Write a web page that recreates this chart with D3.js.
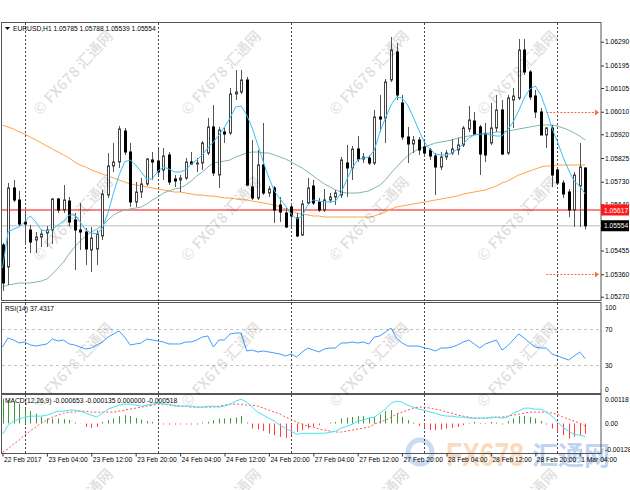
<!DOCTYPE html>
<html>
<head>
<meta charset="utf-8">
<script src="https://cdn.jsdelivr.net/npm/d3@7"></script>
<style>
body { margin: 0; background: #fff; }
svg { display: block; font-family: "Liberation Sans", Arial, sans-serif; }
</style>
</head>
<body>
<script>
// EURUSD H1, one bar per hour from 22 Feb 2017 20:00 to 1 Mar 2017 05:00
var barOpen = [1.05477,1.05389,1.05705,1.05657,1.05569,1.05537,1.05497,1.05509,1.05525,1.05537,
  1.05661,1.05617,1.05653,1.05577,1.05537,1.05529,1.05457,1.05461,1.05513,1.05677,
  1.05793,1.05809,1.05933,1.05849,1.05649,1.05689,1.05721,1.05817,1.05813,1.05777,
  1.05837,1.05741,1.05737,1.05745,1.05809,1.05801,1.05805,1.05845,1.05949,1.05757,
  1.05929,1.05925,1.06081,1.06089,1.06137,1.05709,1.05665,1.05797,1.05685,1.05705,
  1.05637,1.05605,1.05629,1.05585,1.05517,1.05645,1.05713,1.05649,1.05617,1.05657,
  1.05669,1.05677,1.05805,1.05785,1.05861,1.05821,1.05825,1.05805,1.05989,1.05985,
  1.06137,1.06249,1.06045,1.05909,1.05881,1.05897,1.05869,1.05857,1.05833,1.05789,
  1.05829,1.05845,1.05857,1.05877,1.05941,1.05973,1.05949,1.05921,1.05885,1.05945,
  1.06017,1.05845,1.06057,1.06065,1.06257,1.06169,1.06073,1.06009,1.05917,1.05945,
  1.05777,1.05725,1.05689,1.05617,1.05713,1.05785];
var barHigh = [1.05485,1.05725,1.05737,1.05693,1.05617,1.05557,1.05529,1.05537,1.05553,1.05665,
  1.05665,1.05717,1.05669,1.05605,1.05645,1.05545,1.05549,1.05537,1.05697,1.05845,
  1.05885,1.05953,1.05945,1.05885,1.05729,1.05745,1.05825,1.05849,1.05861,1.05865,
  1.05849,1.05757,1.05757,1.05825,1.05849,1.05825,1.05893,1.05985,1.06037,1.05949,
  1.05945,1.06105,1.06177,1.06177,1.06149,1.05897,1.05857,1.05965,1.05713,1.05713,
  1.05669,1.05625,1.05645,1.05605,1.05657,1.05745,1.05737,1.05665,1.05701,1.05685,
  1.05697,1.05829,1.05877,1.05873,1.05913,1.05845,1.05837,1.06017,1.06077,1.06141,
  1.06309,1.06285,1.06077,1.05949,1.05913,1.05909,1.05897,1.05865,1.05845,1.05849,
  1.05857,1.05901,1.05905,1.05953,1.06033,1.06009,1.05957,1.05965,1.06045,1.06077,
  1.06057,1.06077,1.06105,1.06301,1.06301,1.06177,1.06097,1.06025,1.05949,1.05957,
  1.05789,1.05737,1.05701,1.05769,1.05885,1.05788];
var barLow = [1.05293,1.05317,1.05649,1.05553,1.05477,1.05445,1.05445,1.05469,1.05469,1.05481,
  1.05605,1.05605,1.05553,1.05377,1.05457,1.05397,1.05369,1.05397,1.05497,1.05665,
  1.05769,1.05785,1.05837,1.05629,1.05629,1.05665,1.05713,1.05737,1.05757,1.05737,
  1.05717,1.05709,1.05689,1.05737,1.05797,1.05769,1.05777,1.05837,1.05753,1.05705,
  1.05885,1.05917,1.06057,1.06081,1.05713,1.05657,1.05657,1.05677,1.05669,1.05565,
  1.05569,1.05545,1.05549,1.05509,1.05513,1.05637,1.05637,1.05609,1.05609,1.05645,
  1.05637,1.05665,1.05669,1.05737,1.05809,1.05805,1.05797,1.05797,1.05929,1.05885,
  1.06129,1.06057,1.05897,1.05805,1.05845,1.05837,1.05829,1.05817,1.05677,1.05777,
  1.05817,1.05837,1.05837,1.05869,1.05929,1.05917,1.05757,1.05809,1.05877,1.05929,
  1.05837,1.05837,1.05945,1.06057,1.06157,1.06057,1.05985,1.05917,1.05865,1.05709,
  1.05721,1.05665,1.05589,1.05549,1.05549,1.05539];
var barClose = [1.05325,1.05705,1.05657,1.05561,1.05561,1.05489,1.05509,1.05521,1.05537,1.05661,
  1.05617,1.05657,1.05569,1.05537,1.05529,1.05461,1.05505,1.05521,1.05681,1.05793,
  1.05809,1.05941,1.05849,1.05649,1.05689,1.05721,1.05821,1.05809,1.05769,1.05833,
  1.05729,1.05733,1.05745,1.05809,1.05801,1.05805,1.05885,1.05949,1.05765,1.05937,
  1.05921,1.06081,1.06089,1.06137,1.05717,1.05665,1.05797,1.05685,1.05701,1.05617,
  1.05609,1.05549,1.05593,1.05513,1.05641,1.05705,1.05645,1.05617,1.05657,1.05669,
  1.05685,1.05817,1.05785,1.05861,1.05821,1.05829,1.05805,1.05989,1.05981,1.06129,
  1.06257,1.06077,1.05909,1.05881,1.05897,1.05857,1.05845,1.05833,1.05789,1.05829,
  1.05845,1.05861,1.05877,1.05945,1.05977,1.05921,1.05841,1.05837,1.05945,1.06017,
  1.05841,1.06065,1.06073,1.06257,1.06169,1.06069,1.06009,1.05917,1.05945,1.05757,
  1.05725,1.05681,1.05617,1.05757,1.05789,1.05554];

// moving averages as drawn on the chart
var maFast = [1.05385,1.05529,1.05541,1.05549,1.05569,1.05593,1.05569,1.05537,1.05533,1.05541,
  1.05557,1.05573,1.05597,1.05597,1.05569,1.05537,1.05525,1.05521,1.05545,1.05605,
  1.05685,1.05757,1.05809,1.05817,1.05797,1.05769,1.05741,1.05741,1.05773,1.05789,
  1.05781,1.05769,1.05769,1.05777,1.05801,1.05817,1.05837,1.05865,1.05889,1.05917,
  1.05949,1.05985,1.06029,1.06033,1.05997,1.05945,1.05877,1.05809,1.05745,1.05693,
  1.05661,1.05633,1.05601,1.05581,1.05593,1.05637,1.05657,1.05653,1.05649,1.05649,
  1.05653,1.05685,1.05737,1.05785,1.05817,1.05825,1.05829,1.05857,1.05929,1.05985,
  1.06037,1.06069,1.06065,1.06037,1.05989,1.05937,1.05889,1.05861,1.05841,1.05837,
  1.05837,1.05845,1.05861,1.05881,1.05905,1.05917,1.05921,1.05921,1.05917,1.05913,
  1.05913,1.05937,1.05969,1.06013,1.06065,1.06101,1.06113,1.06077,1.06017,1.05945,
  1.05889,1.05829,1.05777,1.05733,1.05713,1.05681];
var maMid = [1.05309,1.05317,1.05321,1.05325,1.05325,1.05325,1.05329,1.05333,1.05341,1.05361,
  1.05385,1.05409,1.05441,1.05469,1.05493,1.05513,1.05529,1.05541,1.05553,1.05577,
  1.05597,1.05609,1.05617,1.05621,1.05625,1.05629,1.05641,1.05657,1.05669,1.05685,
  1.05693,1.05701,1.05705,1.05717,1.05733,1.05753,1.05769,1.05789,1.05805,1.05809,
  1.05813,1.05817,1.05829,1.05837,1.05845,1.05849,1.05849,1.05845,1.05845,1.05837,
  1.05829,1.05821,1.05809,1.05797,1.05785,1.05769,1.05753,1.05737,1.05721,1.05709,
  1.05697,1.05689,1.05685,1.05685,1.05685,1.05689,1.05693,1.05705,1.05717,1.05737,
  1.05765,1.05789,1.05813,1.05833,1.05849,1.05861,1.05869,1.05877,1.05885,1.05889,
  1.05893,1.05897,1.05905,1.05909,1.05913,1.05917,1.05921,1.05925,1.05925,1.05929,
  1.05929,1.05933,1.05937,1.05941,1.05945,1.05949,1.05953,1.05957,1.05957,1.05957,
  1.05953,1.05945,1.05937,1.05925,1.05913,1.05897];
var maSlow = [1.05957,1.05949,1.05941,1.05929,1.05921,1.05909,1.05897,1.05885,1.05873,1.05861,
  1.05849,1.05837,1.05825,1.05809,1.05797,1.05789,1.05777,1.05769,1.05761,1.05753,
  1.05745,1.05737,1.05729,1.05721,1.05717,1.05713,1.05709,1.05705,1.05701,1.05697,
  1.05693,1.05689,1.05689,1.05685,1.05681,1.05677,1.05677,1.05673,1.05673,1.05669,
  1.05665,1.05665,1.05661,1.05661,1.05657,1.05653,1.05649,1.05645,1.05641,1.05637,
  1.05629,1.05621,1.05613,1.05605,1.05601,1.05597,1.05593,1.05593,1.05589,1.05589,
  1.05589,1.05589,1.05589,1.05589,1.05589,1.05589,1.05589,1.05593,1.05601,1.05609,
  1.05621,1.05629,1.05633,1.05637,1.05641,1.05645,1.05649,1.05653,1.05657,1.05661,
  1.05665,1.05669,1.05673,1.05681,1.05685,1.05689,1.05693,1.05697,1.05705,1.05713,
  1.05725,1.05733,1.05745,1.05757,1.05765,1.05773,1.05781,1.05789,1.05793,1.05793,
  1.05797,1.05797,1.05797,1.05797,1.05797,1.05797];

// RSI(14)
var rsiValues = [50.3,60.3,58.1,54.8,55.9,52.6,51.4,52.6,53.7,59.2,
  57.0,58.1,53.7,52.6,50.3,48.1,49.2,52.6,55.9,61.4,
  64.8,68.1,61.4,52.6,53.7,54.8,59.2,58.1,57.0,55.9,
  53.7,53.7,53.7,55.9,55.9,58.1,61.4,62.6,50.3,58.1,
  58.1,64.8,65.9,65.9,45.9,47.0,44.8,45.9,44.8,43.7,
  42.6,40.3,42.6,39.2,44.8,49.2,47.0,44.8,48.1,49.2,
  49.2,54.8,54.8,55.9,54.8,55.9,53.7,61.4,62.6,67.0,
  71.4,60.3,54.8,51.4,51.4,51.4,49.2,48.1,45.9,49.2,
  49.2,50.3,52.6,55.9,58.1,53.7,49.2,53.7,55.9,58.1,
  47.0,51.4,58.1,64.8,60.3,54.8,50.3,49.2,49.2,42.6,
  40.3,38.1,35.9,40.3,44.8,37.4317];

// MACD(12,26,9)
var macdMain = [-0.00054,-0.00009,0.00012,0.00022,0.00032,0.00037,0.00037,0.00037,0.00042,0.00052,
  0.00062,0.00062,0.00067,0.00067,0.00062,0.00052,0.00042,0.00032,0.00052,0.00072,
  0.00082,0.00092,0.00097,0.00097,0.00092,0.00087,0.00092,0.00097,0.00102,0.00097,
  0.00097,0.00087,0.00087,0.00087,0.00087,0.00082,0.00082,0.00087,0.00087,0.00082,
  0.00087,0.00097,0.00112,0.00122,0.00107,0.00082,0.00057,0.00042,0.00027,0.00012,
  -0.00009,-0.00024,-0.00039,-0.00054,-0.00049,-0.00049,-0.00049,-0.00049,-0.00049,-0.00044,
  -0.00039,-0.00024,-0.00014,-0.00004,0.00012,0.00017,0.00027,0.00032,0.00052,0.00072,
  0.00102,0.00112,0.00107,0.00092,0.00082,0.00072,0.00067,0.00057,0.00052,0.00042,
  0.00037,0.00037,0.00032,0.00032,0.00027,0.00027,0.00027,0.00027,0.00032,0.00032,
  0.00027,0.00032,0.00052,0.00062,0.00077,0.00077,0.00072,0.00072,0.00057,0.00037,
  0.00007,-0.00019,-0.00039,-0.00054,-0.00059,-0.000653];
var macdSignal = [-0.00143,-0.00128,-0.00103,-0.00083,-0.00058,-0.00038,-0.00018,0.00002,0.00017,0.00032,
  0.00042,0.00052,0.00057,0.00057,0.00062,0.00062,0.00057,0.00057,0.00057,0.00057,
  0.00057,0.00062,0.00067,0.00072,0.00077,0.00082,0.00087,0.00092,0.00097,0.00097,
  0.00092,0.00092,0.00087,0.00087,0.00082,0.00082,0.00082,0.00082,0.00082,0.00087,
  0.00092,0.00097,0.00097,0.00097,0.00092,0.00092,0.00087,0.00077,0.00067,0.00057,
  0.00047,0.00032,0.00022,0.00007,-0.00003,-0.00013,-0.00018,-0.00028,-0.00033,-0.00038,
  -0.00043,-0.00043,-0.00038,-0.00033,-0.00028,-0.00023,-0.00018,-0.00003,0.00007,0.00017,
  0.00032,0.00047,0.00057,0.00067,0.00077,0.00082,0.00082,0.00077,0.00072,0.00067,
  0.00057,0.00052,0.00042,0.00037,0.00032,0.00027,0.00027,0.00027,0.00027,0.00032,
  0.00032,0.00037,0.00042,0.00047,0.00052,0.00057,0.00057,0.00057,0.00057,0.00052,
  0.00047,0.00032,0.00022,0.00012,0.00002,-0.000135];
var macdHist = [0.00125,0.00117,0.00108,0.00100,0.00075,0.00062,0.00050,0.00033,0.00025,0.00025,
  0.00025,0.00022,0.00017,0.00005,0.00001,-0.00017,-0.00022,-0.00017,0.00008,0.00017,
  0.00025,0.00037,0.00042,0.00038,0.00028,0.00020,0.00012,0.00008,0.00005,-0.00005,
  -0.00005,-0.00005,-0.00005,-0.00005,-0.00005,-0.00005,0.00005,0.00008,0.00017,0.00025,
  0.00025,0.00027,0.00030,0.00037,0.00005,-0.00025,-0.00030,-0.00038,-0.00050,-0.00058,
  -0.00067,-0.00072,-0.00058,-0.00042,-0.00033,-0.00025,-0.00017,-0.00008,0.00000,0.00005,
  0.00008,0.00025,0.00030,0.00033,0.00037,0.00037,0.00030,0.00033,0.00045,0.00062,
  0.00067,0.00050,0.00033,0.00017,0.00005,-0.00012,-0.00022,-0.00033,-0.00033,-0.00030,
  -0.00025,-0.00022,-0.00017,-0.00008,-0.00003,0.00008,0.00003,-0.00003,0.00008,0.00005,
  -0.00005,0.00012,0.00025,0.00038,0.00038,0.00033,0.00025,0.00012,-0.00005,-0.00025,
  -0.00042,-0.00058,-0.00075,-0.00067,-0.00058,-0.000518];

// axes
var priceTicks = [1.06290,1.06195,1.06105,1.06010,1.05920,1.05825,1.05730,1.05640,1.05455,1.05360,1.05270];
var rsiTicks = [100, 70, 30, 0];
var rsiLevels = [70, 30];
var macdTicks = [0.00118, 0, -0.001289];
var macdTickText = ["0.00118", "0.00", "-0.001289"];
var timeTickBars = [0,8,16,24,32,40,48,56,64,72,80,88,96,104];
var timeLabels = ["22 Feb 2017","23 Feb 04:00","23 Feb 12:00","23 Feb 20:00","24 Feb 04:00","24 Feb 12:00",
  "24 Feb 20:00","27 Feb 04:00","27 Feb 12:00","27 Feb 20:00","28 Feb 04:00","28 Feb 12:00","28 Feb 20:00","1 Mar 04:00"];
var dayBars = [4, 28, 52, 76, 100];

// horizontal lines
var alertLevel = 1.05617;
var bidLevel = 1.05554;
var targetLevels = [1.06010, 1.05360];
var targetFromBar = 98;

var titleText = "EURUSD,H1  1.05785 1.05788 1.05539 1.05554";
var rsiText = "RSI(14) 37.4317";
var macdText = "MACD(12,26,9) -0.000653 -0.000135 0.000000 -0.000518";

// layout
var w = 630;
var h = 490;
var left = 2, right = 601;
var mainTop = 22, mainBottom = 300;
var rsiTop = 302, rsiBottom = 393;
var macdTop = 394, macdBottom = 453;
var fs = 6.7;

var xScale = d3.scaleLinear().domain([0, 105]).range([2.5, 585.25]);
var yMain = d3.scaleLinear().domain([1.05257, 1.06369]).range([300, 22]);
var yRsi = d3.scaleLinear().domain([0, 100]).range([392.3, 302.3]);
var yMacd = d3.scaleLinear().domain([-0.00148, 0.00148]).range([453, 394]);

var svg = d3.select("body")
  .append("svg")
  .attr("width", w)
  .attr("height", h);

svg.append("rect").attr("width", w).attr("height", h).attr("fill", "#fff");

// faded logo bottom right
var logo = svg.append("g").attr("opacity", 0.35);
logo.append("circle").attr("cx", 420).attr("cy", 452).attr("r", 12)
  .attr("fill", "none").attr("stroke", "#6d9be0").attr("stroke-width", 5);
logo.append("text").attr("x", 446).attr("y", 466).text("FX678")
  .attr("font-size", 34).attr("font-weight", "bold").attr("fill", "#f39a4a")
  .attr("textLength", 78).attr("lengthAdjust", "spacingAndGlyphs");
logo.append("text").attr("x", 532).attr("y", 465).text("汇通网")
  .attr("font-family", "Noto Sans CJK SC").attr("font-size", 26).attr("font-weight", "bold")
  .attr("fill", "#4d84d8").attr("textLength", 78).attr("lengthAdjust", "spacingAndGlyphs");

// panel frames
function panel(y0, y1) {
  svg.append("rect")
    .attr("x", left - 0.5).attr("y", y0 + 0.5)
    .attr("width", right - left + 0.5).attr("height", y1 - y0)
    .attr("fill", "none").attr("stroke", "#555").attr("stroke-width", 1);
}
panel(mainTop, mainBottom);
panel(rsiTop, rsiBottom);
panel(macdTop, macdBottom);

// day separators
svg.selectAll(".sep")
  .data(dayBars)
  .enter()
  .append("line")
  .attr("x1", function(d) { return Math.round(xScale(d)) + 0.5; })
  .attr("x2", function(d) { return Math.round(xScale(d)) + 0.5; })
  .attr("y1", mainTop + 1).attr("y2", macdBottom)
  .attr("stroke", "#444").attr("stroke-dasharray", "2,2");

// bid line and alert line
svg.append("line")
  .attr("x1", left).attr("x2", right)
  .attr("y1", yMain(bidLevel)).attr("y2", yMain(bidLevel))
  .attr("stroke", "#d2d2d2").attr("stroke-width", 1.5);
svg.append("line")
  .attr("x1", left).attr("x2", right)
  .attr("y1", yMain(alertLevel)).attr("y2", yMain(alertLevel))
  .attr("stroke", "#ff5a5a").attr("stroke-width", 1.5);

// target lines with arrows
targetLevels.forEach(function(v) {
  var yy = Math.round(yMain(v)) + 0.5;
  svg.append("line")
    .attr("x1", xScale(targetFromBar)).attr("x2", right - 5)
    .attr("y1", yy).attr("y2", yy)
    .attr("stroke", "#ff6a3a").attr("stroke-dasharray", "2,1.5");
  svg.append("path")
    .attr("d", "M" + (right - 6) + "," + (yy - 3) + "L" + (right - 2) + "," + yy + "L" + (right - 6) + "," + (yy + 3) + "Z")
    .attr("fill", "#ff6a3a");
});

// moving averages
function priceLine(values, color) {
  svg.append("path")
    .datum(values)
    .attr("fill", "none")
    .attr("stroke", color)
    .attr("stroke-width", 1)
    .attr("d", d3.line()
      .x(function(d, i) { return xScale(i); })
      .y(function(d) { return yMain(d); }));
}
priceLine(maSlow, "#ffa347");
priceLine(maMid, "#7fb5b2");

// candles
var bars = d3.range(barOpen.length);
svg.selectAll(".wick")
  .data(bars)
  .enter()
  .append("line")
  .attr("x1", function(i) { return Math.round(xScale(i)) + 0.5; })
  .attr("x2", function(i) { return Math.round(xScale(i)) + 0.5; })
  .attr("y1", function(i) { return yMain(barHigh[i]); })
  .attr("y2", function(i) { return yMain(barLow[i]); })
  .attr("stroke", "#555");

svg.selectAll(".body")
  .data(bars)
  .enter()
  .append("rect")
  .attr("x", function(i) { return Math.round(xScale(i)) - 0.5; })
  .attr("y", function(i) { return yMain(Math.max(barOpen[i], barClose[i])); })
  .attr("width", 2)
  .attr("height", function(i) { return Math.max(1, yMain(Math.min(barOpen[i], barClose[i])) - yMain(Math.max(barOpen[i], barClose[i]))); })
  .attr("fill", function(i) { return barClose[i] >= barOpen[i] ? "#fff" : "#000"; })
  .attr("stroke", function(i) { return barClose[i] >= barOpen[i] ? "#444" : "#000"; })
  .attr("stroke-width", 1);

priceLine(maFast, "#35c2f3");

// price axis
var priceAxis = d3.axisRight(yMain)
  .tickValues(priceTicks)
  .tickSize(3)
  .tickPadding(1)
  .tickFormat(d3.format(".5f"));
var pa = svg.append("g")
  .attr("transform", "translate(" + right + ",0)")
  .call(priceAxis);
pa.select(".domain").remove();
pa.selectAll("text").attr("font-size", fs).attr("font-family", "Liberation Sans, Arial, sans-serif").attr("fill", "#000");
pa.selectAll("line").attr("stroke", "#333");

// price boxes
function priceBox(v, bg) {
  var yy = yMain(v);
  svg.append("rect").attr("x", right).attr("y", yy - 5.5).attr("width", 28).attr("height", 11).attr("fill", bg);
  svg.append("text").attr("x", right + 3).attr("y", yy + 2.5).text(d3.format(".5f")(v))
    .attr("font-size", fs).attr("fill", "#fff");
}
priceBox(alertLevel, "#ff1a1a");
priceBox(bidLevel, "#000");

// RSI panel
svg.selectAll(".rsilevel")
  .data(rsiLevels)
  .enter()
  .append("line")
  .attr("x1", left).attr("x2", right)
  .attr("y1", function(d) { return Math.round(yRsi(d)) + 0.5; })
  .attr("y2", function(d) { return Math.round(yRsi(d)) + 0.5; })
  .attr("stroke", "#c4c4c4").attr("stroke-dasharray", "3,3");

svg.append("path")
  .datum(rsiValues)
  .attr("fill", "none")
  .attr("stroke", "#3f9cff")
  .attr("stroke-width", 1)
  .attr("d", d3.line()
    .x(function(d, i) { return xScale(i); })
    .y(function(d) { return yRsi(d); }));

svg.selectAll(".rsitick")
  .data(rsiTicks)
  .enter()
  .append("text")
  .attr("x", right + 4)
  .attr("y", function(d) { return Math.min(Math.max(yRsi(d), rsiTop + 5), rsiBottom - 4) + 2.5; })
  .attr("font-size", fs)
  .text(function(d) { return d; });

// MACD panel
svg.selectAll(".hist")
  .data(macdHist)
  .enter()
  .append("line")
  .attr("x1", function(d, i) { return Math.round(xScale(i)) + 0.5; })
  .attr("x2", function(d, i) { return Math.round(xScale(i)) + 0.5; })
  .attr("y1", yMacd(0))
  .attr("y2", function(d) { return yMacd(d); })
  .attr("stroke", function(d) { return d >= 0 ? "#3a9a3a" : "#ff3b3b"; });

svg.append("path")
  .datum(macdSignal)
  .attr("fill", "none")
  .attr("stroke", "#ff5050")
  .attr("stroke-dasharray", "2,2")
  .attr("d", d3.line()
    .x(function(d, i) { return xScale(i); })
    .y(function(d) { return yMacd(d); }));

svg.append("path")
  .datum(macdMain)
  .attr("fill", "none")
  .attr("stroke", "#45e3f0")
  .attr("stroke-width", 1)
  .attr("d", d3.line()
    .x(function(d, i) { return xScale(i); })
    .y(function(d) { return yMacd(d); }));

svg.selectAll(".macdtick")
  .data(macdTicks)
  .enter()
  .append("text")
  .attr("x", right + 4)
  .attr("y", function(d) { return yMacd(d) + 2.5; })
  .attr("font-size", fs)
  .text(function(d, i) { return macdTickText[i]; });

// time axis
var timeAxis = d3.axisBottom(xScale)
  .tickValues(timeTickBars)
  .tickSize(3)
  .tickPadding(1)
  .tickFormat(function(d, i) { return timeLabels[i]; });
var ta = svg.append("g")
  .attr("transform", "translate(0," + (macdBottom + 0.5) + ")")
  .call(timeAxis);
ta.select(".domain").remove();
ta.selectAll("text").attr("text-anchor", "start").attr("font-size", fs)
  .attr("font-family", "Liberation Sans, Arial, sans-serif").attr("fill", "#000").attr("dx", 1);
ta.selectAll("line").attr("stroke", "#333");

// titles
svg.append("path").attr("d", "M5,27L10,27L7.5,30Z").attr("fill", "#000");
svg.append("text").attr("x", 13).attr("y", 31).attr("font-size", fs).text(titleText);
svg.append("text").attr("x", 5).attr("y", 311).attr("font-size", fs).text(rsiText);
svg.append("text").attr("x", 5).attr("y", 403).attr("font-size", fs).text(macdText);

// watermarks
var markCols = [73, 221, 369, 517];
var markRows = [73, 219, 365, 511];
markRows.forEach(function(ry) {
  markCols.forEach(function(cx) {
    svg.append("text")
      .attr("transform", "translate(" + cx + "," + ry + ") rotate(-47)")
      .attr("text-anchor", "middle")
      .attr("dy", "0.35em")
      .attr("font-family", "Noto Sans CJK SC, Liberation Sans, sans-serif")
      .attr("font-size", 15)
      .attr("font-weight", "bold")
      .attr("fill", "#000")
      .attr("fill-opacity", 0.12)
      .text("© FX678 汇通网");
  });
});
</script>
</body>
</html>
